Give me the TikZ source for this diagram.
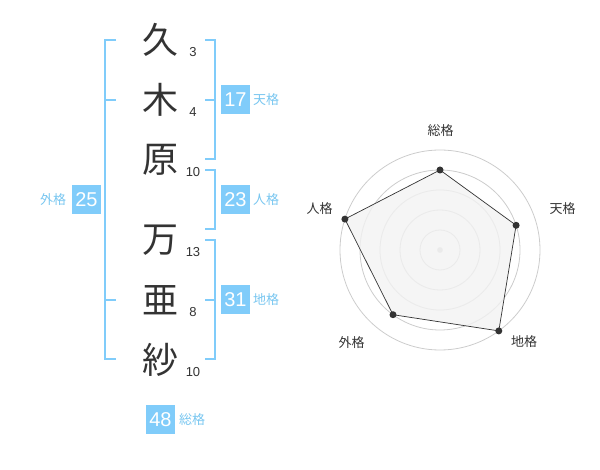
\documentclass[tikz,border=0pt]{standalone}
\usepackage{fontspec}
\setmainfont{Liberation Sans}
\newfontfamily\jp{Noto Sans CJK JP}
\definecolor{boxblue}{RGB}{128,204,250}
\definecolor{lblblue}{RGB}{120,198,240}
\definecolor{ink}{RGB}{51,51,51}
\definecolor{ringgray}{RGB}{204,204,204}
\definecolor{areafill}{RGB}{242,242,242}
\tikzset{
  kanji/.style={font=\jp\fontsize{36}{36}\selectfont, text=ink, inner sep=0pt},
  strokes/.style={font=\fontsize{13}{13}\selectfont, text=ink, inner sep=0pt},
  numbox/.style={fill=boxblue, text=white, minimum width=29pt, minimum height=29pt, inner sep=0pt, font=\fontsize{20}{20}\selectfont},
  kaku/.style={font=\jp\fontsize{13}{13}\selectfont, text=lblblue, inner sep=0pt},
  bracket/.style={draw=boxblue, line width=2pt},
  ring/.style={draw=ringgray, line width=0.8pt},
  axislbl/.style={font=\jp\fontsize{13}{13}\selectfont, text=ink, inner sep=0pt},
  dot/.style={circle, fill=ink, inner sep=0pt, minimum size=7pt}
}
\begin{document}
\begin{tikzpicture}[x=1pt,y=-1pt]
\useasboundingbox (0,0) rectangle (600,470);
% kanji
\node[kanji] (k1) at (160,40) {久};
\node[kanji] (k2) at (160,100) {木};
\node[kanji] (k3) at (160,160) {原};
\node[kanji] (k4) at (160,240) {万};
\node[kanji] (k5) at (160,300) {亜};
\node[kanji] (k6) at (160,360) {紗};
% stroke counts
\node[strokes] (s1) at (193,52) {3};
\node[strokes] (s2) at (193,112) {4};
\node[strokes] (s3) at (193,172) {10};
\node[strokes] (s4) at (193,252) {13};
\node[strokes] (s5) at (193,312) {8};
\node[strokes] (s6) at (193,372) {10};
% brackets
\draw[bracket] (205,40) -- (214.5,40) -- (214.5,159.5) -- (205,159.5);
\draw[bracket] (205,100) -- (214.5,100);
\draw[bracket] (205,170) -- (214.5,170) -- (214.5,229.5) -- (205,229.5);
\draw[bracket] (205,240) -- (214.5,240) -- (214.5,359.5) -- (205,359.5);
\draw[bracket] (205,300) -- (214.5,300);
\draw[bracket] (116,40) -- (105,40) -- (105,359.5) -- (116,359.5);
\draw[bracket] (105,100) -- (116,100);
\draw[bracket] (105,300) -- (116,300);
% boxes
\node[numbox] (ten) at (235.5,100) {17};
\node[kaku] (tenl) at (266,100) {天格};
\node[numbox] (jin) at (235.5,200) {23};
\node[kaku] (jinl) at (266,200) {人格};
\node[numbox] (chi) at (235.5,300) {31};
\node[kaku] (chil) at (266,300) {地格};
\node[numbox] (gai) at (86.5,200) {25};
\node[kaku] (gail) at (53,200) {外格};
\node[numbox] (sou) at (160.5,419.5) {48};
\node[kaku] (soul) at (192,420) {総格};
% radar
\coordinate (c) at (440,250);
\foreach \r in {20,40,60,80,100} \draw[ring] (c) circle[radius=\r pt];
\fill[ringgray] (c) circle[radius=2.8pt];
\coordinate (p1) at (440,170);
\coordinate (p2) at (516.1,225.3);
\coordinate (p3) at (498.8,330.9);
\coordinate (p4) at (393.0,314.7);
\coordinate (p5) at (344.9,219.1);
\filldraw[fill=areafill, fill opacity=0.8, draw=ink, line width=0.7pt] (p1) -- (p2) -- (p3) -- (p4) -- (p5) -- cycle;
\foreach \p in {p1,p2,p3,p4,p5} \node[dot] at (\p) {};
\node[axislbl] (a1) at (440.5,130.5) {総格};
\node[axislbl] (a2) at (562.5,208.5) {天格};
\node[axislbl] (a3) at (524,341.5) {地格};
\node[axislbl] (a4) at (351.5,342.5) {外格};
\node[axislbl] (a5) at (319.5,208.5) {人格};
\end{tikzpicture}
\end{document}
